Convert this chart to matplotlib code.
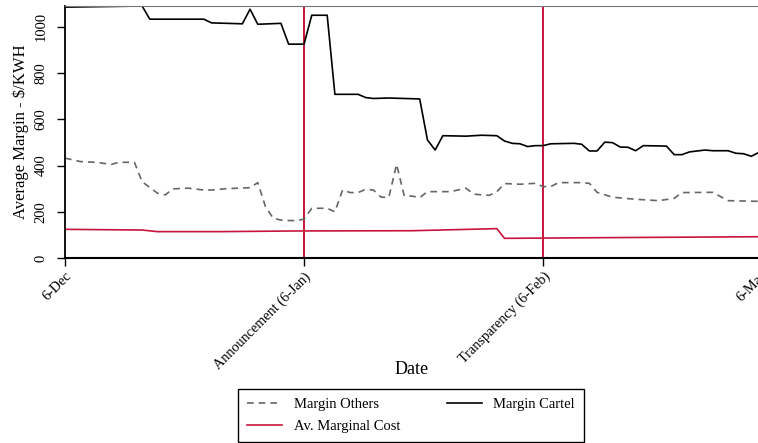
from matplotlib import pyplot as plt
import numpy as np

# dias desde el 6 de diciembre
cartel_days = [0, 10, 11, 18, 19, 23, 24, 25, 28, 29, 31, 32, 34, 35, 38, 39, 40, 42, 46, 47,
               48, 49, 52, 54, 56, 57, 58, 59, 60, 61, 62, 63, 66, 67, 68, 69, 70, 71, 72, 73,
               74, 75, 78, 79, 80, 81, 83, 84, 86, 87, 88, 89, 90]
cartel_vals = [1085, 1090, 1033, 1033, 1017, 1013, 1076, 1011, 1015, 925, 925, 1050, 1050, 708, 708, 694, 690, 692, 688, 511,
               467, 529, 527, 531, 529, 506, 496, 494, 482, 486, 486, 494, 496, 492, 463, 463, 501, 499, 480, 479,
               464, 486, 484, 447, 447, 459, 467, 464, 464, 453, 451, 440, 457]

others_days = [0, 2, 4, 6, 7, 9, 10, 12, 13, 14, 16, 18, 19, 21, 24, 25, 26, 27, 28, 29,
               30, 31, 32, 34, 35, 36, 37, 38, 39, 40, 41, 42, 43, 44, 45, 46, 47, 50, 52, 53,
               55, 56, 57, 59, 61, 62, 63, 64, 67, 68, 69, 71, 74, 77, 79, 80, 84, 86, 90]
others_vals = [432, 417, 414, 405, 414, 414, 330, 280, 273, 299, 302, 294, 294, 300, 304, 326, 222, 172, 164, 162,
               162, 168, 215, 215, 200, 294, 283, 283, 297, 294, 263, 263, 405, 268, 268, 261, 287, 287, 302, 276,
               271, 287, 322, 319, 323, 309, 309, 326, 326, 323, 284, 263, 254, 248, 258, 283, 284, 248, 245]

cost_days = [0, 10, 12, 20, 30, 45, 56, 57, 70, 90]
cost_vals = [124, 121, 114, 114, 117, 118, 127, 85, 88, 92]

event_days = [31, 62]
tick_days = [0, 31, 62, 90]
tick_labels = ['6-Dec', 'Announcement (6-Jan)', 'Transparency (6-Feb)', '6-Mar']

plt.rcParams['font.family'] = ['Liberation Serif', 'DejaVu Serif']
rojo = '#C8143C'

fig = plt.figure(figsize=(7.58, 4.43), dpi=100)
ax = fig.add_axes([65/758, 185/443, 694/758, 252/443])

for d in event_days:
    ax.axvline(d, color=rojo, lw=1.4, zorder=1)

l_others, = ax.plot(others_days, others_vals, color='#666666', lw=1.2, ls=(0, (4, 3)), label='Margin Others')
l_cartel, = ax.plot(cartel_days, cartel_vals, color='black', lw=1.2, label='Margin Cartel')
l_cost, = ax.plot(cost_days, cost_vals, color=rojo, lw=1.2, label='Av. Marginal Cost')

ax.set_xlim(0, 90)
ax.set_ylim(0, 1090)
ax.set_yticks([0, 200, 400, 600, 800, 1000])
ax.set_xticks(tick_days)
ax.set_xticklabels(tick_labels, rotation=45, ha='right', rotation_mode='anchor')
ax.tick_params(axis='both', direction='out', length=5.5, width=1, labelsize=10.3)
ax.tick_params(axis='x', pad=3)
ax.tick_params(axis='y', pad=7, labelsize=10.5)
for lab in ax.get_yticklabels():
    lab.set_rotation(90)
    lab.set_va('center')

ax.spines['right'].set_visible(False)
ax.spines['top'].set_color('#777777')
ax.spines['left'].set_linewidth(1.3)
ax.spines['bottom'].set_linewidth(1.5)

ax.set_ylabel('Average Margin - \\$/KWH', fontsize=12)
ax.yaxis.set_label_coords(-0.052, 0.5)
fig.text(412/758, 1 - 370/443, 'Date', fontsize=13, ha='center', va='center')

leg = fig.legend([l_others, l_cost, l_cartel], ['Margin Others', 'Av. Marginal Cost', 'Margin Cartel'],
                 ncol=2, loc='lower center', bbox_to_anchor=(411/758, 1/443), fontsize=10.5,
                 fancybox=False, edgecolor='black', framealpha=1, handlelength=2.4,
                 handletextpad=0.8, columnspacing=3.2, labelspacing=0.6, borderpad=0.6,
                 borderaxespad=0)
leg.get_frame().set_linewidth(1.0)

fig.savefig('out.png', dpi=100)
